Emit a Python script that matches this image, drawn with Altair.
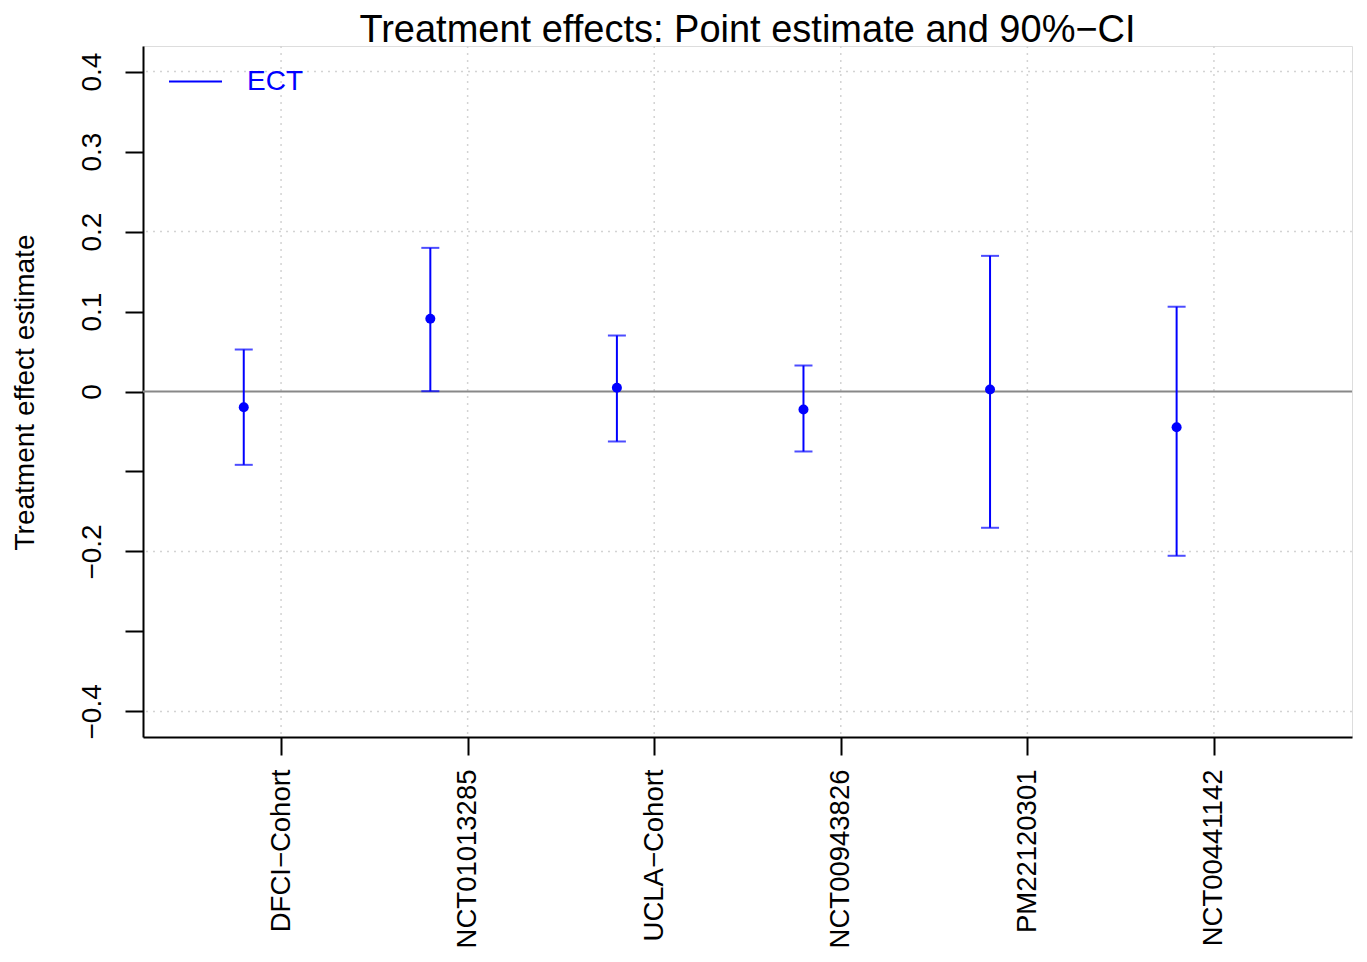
import altair as alt
import pandas as pd
import json

# ---- data ----
categories = ["DFCI\u2212Cohort", "NCT01013285", "UCLA\u2212Cohort",
              "NCT00943826", "PM22120301", "NCT00441142"]
estimates = [-0.0196, 0.091, 0.0046, -0.0225, 0.0025, -0.0446]
ci_lower = [-0.0917, 0.0004, -0.0625, -0.075, -0.1704, -0.2054]
ci_upper = [0.0525, 0.1796, 0.070, 0.0325, 0.1696, 0.106]
series_name = "ECT"
point_shift = -0.2          # points drawn left of the category tick

y_ticks = [-0.4, -0.3, -0.2, -0.1, 0.0, 0.1, 0.2, 0.3, 0.4]
y_tick_labels = ["\u22120.4", "", "\u22120.2", "", "0", "0.1", "0.2", "0.3", "0.4"]
x_ticks = [1, 2, 3, 4, 5, 6]
h_grid = [-0.4, -0.2, 0.2, 0.4]
v_grid = [1, 2, 3, 4, 5, 6]

FONT = "Liberation Sans"
BLUE = "#0000FF"

df = pd.DataFrame({
    "study": categories,
    "tick": x_ticks,
    "est": estimates,
    "lo": ci_lower,
    "hi": ci_upper,
    "series": [series_name] * len(categories),
})
df["pos"] = df["tick"] + point_shift

x_scale = alt.Scale(domain=[0.26, 6.74], nice=False, zero=False)
y_scale = alt.Scale(domain=[-0.432, 0.432], nice=False, zero=False)

x_label_expr = json.dumps(categories) + "[round(datum.value) - 1]"
y_map = "{" + ",".join(f"'{int(round(v * 10))}':{json.dumps(l)}" for v, l in zip(y_ticks, y_tick_labels)) + "}"
y_label_expr = f"{y_map}[toString(round(datum.value * 10))]"

x_axis = alt.Axis(values=x_ticks, labelExpr=x_label_expr, title=None, grid=False,
                  labelAngle=-90, labelAlign="right", labelBaseline="middle",
                  labelFont=FONT, labelFontSize=27.5, labelColor="black", labelLimit=600,
                  labelPadding=14, tickSize=18, tickWidth=2, tickColor="black",
                  domainColor="black", domainWidth=2, labelFlush=False, labelOverlap=False)
y_axis = alt.Axis(values=y_ticks, labelExpr=y_label_expr, title="Treatment effect estimate",
                  grid=False, labelAngle=-90, labelAlign="center", labelBaseline="alphabetic",
                  labelFont=FONT, labelFontSize=28, labelColor="black", labelLimit=600,
                  labelPadding=25, tickSize=18, tickWidth=2, tickColor="black",
                  domainColor="black", domainWidth=2, labelFlush=False, labelOverlap=False,
                  titleFont=FONT, titleFontSize=28, titleFontWeight="normal", titleColor="black",
                  titleAngle=-90, titleBaseline="alphabetic", titleX=-110, titleY=346)

base = alt.Chart(df)

hgrid = alt.Chart(pd.DataFrame({"g": h_grid})).mark_rule(
    color="#D3D3D3", strokeWidth=1.5, strokeDash=[2, 5]
).encode(y=alt.Y("g:Q", scale=y_scale, axis=y_axis))

vgrid = alt.Chart(pd.DataFrame({"g": v_grid})).mark_rule(
    color="#D3D3D3", strokeWidth=1.5, strokeDash=[2, 5]
).encode(x=alt.X("g:Q", scale=x_scale, axis=x_axis))

zero = alt.Chart(pd.DataFrame({"z": [0.0]})).mark_rule(
    color="#888888", strokeWidth=2
).encode(y=alt.Y("z:Q", scale=y_scale))

bars = base.mark_rule(strokeWidth=2).encode(
    x=alt.X("pos:Q", scale=x_scale),
    y=alt.Y("lo:Q", scale=y_scale),
    y2="hi:Q",
    color=alt.Color("series:N", scale=alt.Scale(domain=[series_name], range=[BLUE]),
                    legend=alt.Legend(title=None, orient="none", legendX=25, legendY=8,
                                      symbolType="stroke", symbolSize=2809,
                                      symbolStrokeWidth=2, symbolStrokeColor=BLUE,
                                      labelFont=FONT, labelFontSize=28, labelColor=BLUE,
                                      labelOffset=24, padding=0)),
)

cap_lo = base.mark_tick(orient="horizontal", size=18, thickness=2, color=BLUE).encode(
    x=alt.X("pos:Q", scale=x_scale), y=alt.Y("lo:Q", scale=y_scale))
cap_hi = base.mark_tick(orient="horizontal", size=18, thickness=2, color=BLUE).encode(
    x=alt.X("pos:Q", scale=x_scale), y=alt.Y("hi:Q", scale=y_scale))

pts = base.mark_circle(size=100, color=BLUE, opacity=1).encode(
    x=alt.X("pos:Q", scale=x_scale), y=alt.Y("est:Q", scale=y_scale))

chart = alt.layer(hgrid, vgrid, zero, bars, cap_lo, cap_hi, pts).properties(
    width=1209, height=691,
    title=alt.TitleParams("Treatment effects: Point estimate and 90%\u2212CI",
                          font=FONT, fontSize=38, fontWeight="normal", color="black",
                          anchor="middle", offset=0, dy=5),
    autosize=alt.AutoSizeParams(type="none"),
    padding={"left": 135, "top": 38, "right": 5, "bottom": 212},
).configure_view(stroke=None).configure(background="white")

chart.save("out.html", embed_options={"renderer": "svg", "actions": False})
